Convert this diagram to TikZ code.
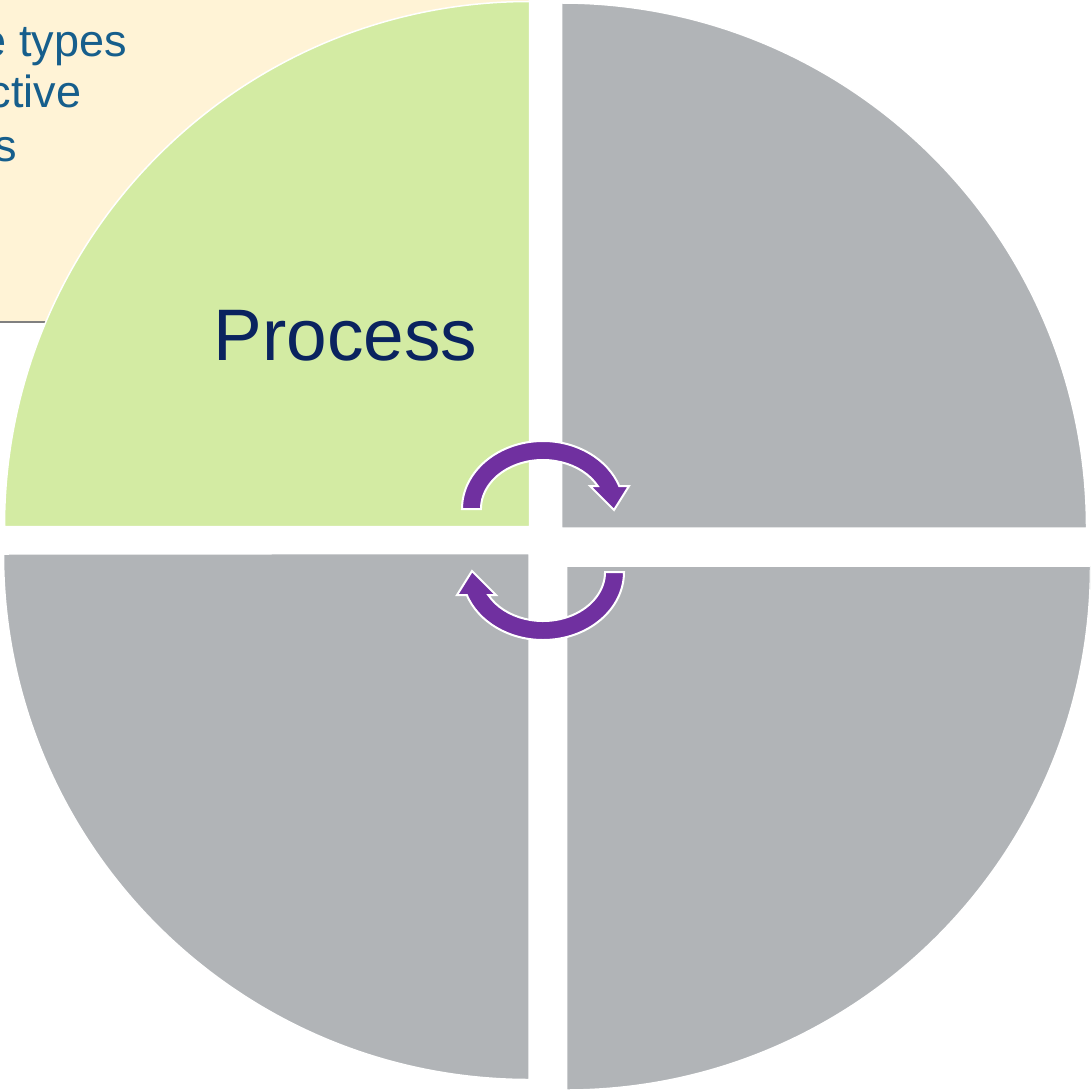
\documentclass[tikz,border=0pt]{standalone}
\usepackage{fontspec}
\setmainfont{Liberation Sans}
\definecolor{cream}{RGB}{255,243,214}
\definecolor{leaf}{RGB}{211,235,163}
\definecolor{quadgray}{RGB}{177,180,183}
\definecolor{arrowpurple}{RGB}{112,48,160}
\definecolor{textblue}{RGB}{22,94,140}
\definecolor{navy}{RGB}{10,35,95}
\begin{document}
\begin{tikzpicture}[x=1pt,y=-1pt,
  quad/.style={draw=white,line width=1.5pt},
  cyclearrow/.style={fill=arrowpurple,draw=white,line width=2pt,line join=miter},
  bodytext/.style={inner sep=0pt,anchor=base west,text=textblue,font=\fontsize{45}{52}\selectfont},
  titletext/.style={inner sep=0pt,anchor=base,text=navy,font=\fontsize{73}{80}\selectfont}
]
\useasboundingbox (0,0) rectangle (1090,1091);
\clip (0,0) rectangle (1090,1091);
% background text box
\fill[cream] (-5,-5) rectangle (529,322);
\draw[gray, line width=2pt] (-5,322) -- (529,322);
\node[bodytext] (t1) at (-18.5,56.7) {e types};
\node[bodytext] (t2) at (-11.5,108) {ctive};
\node[bodytext] (t3) at (-6,161.7) {s};
% quadrants
\path[quad, fill=leaf] (529.5,526.5) -- (4.5,526.5) arc[start angle=180,end angle=90,radius=525pt] -- cycle;
\path[quad, fill=quadgray] (561.5,528) -- (561.5,3) arc[start angle=90,end angle=0,radius=525pt] -- cycle;
\path[quad, fill=quadgray] (529,553.5) -- (529,1079.5) arc[start angle=-90,end angle=-180,radius=525.5pt] -- cycle;
\path[quad, fill=quadgray] (566.5,566) -- (1090.5,566) arc[start angle=0,end angle=-90,radius=524pt] -- cycle;
% title
\node[titletext] (title) at (345.5,360) {Process};
% cycle arrows
\path[cyclearrow] (462,509) arc[start angle=180,end angle=19.77,x radius=81pt,y radius=68pt]
  -- (629,486) -- (614,510) -- (590,486) -- (597.7,486)
  arc[start angle=28,end angle=180,x radius=62pt,y radius=49pt] -- cycle;
\path[cyclearrow] (624,572) arc[start angle=0,end angle=-160.23,x radius=81pt,y radius=68pt]
  -- (457,595) -- (472,571) -- (496,595) -- (488.3,595)
  arc[start angle=-152,end angle=0,x radius=62pt,y radius=49pt] -- cycle;
\end{tikzpicture}
\end{document}
